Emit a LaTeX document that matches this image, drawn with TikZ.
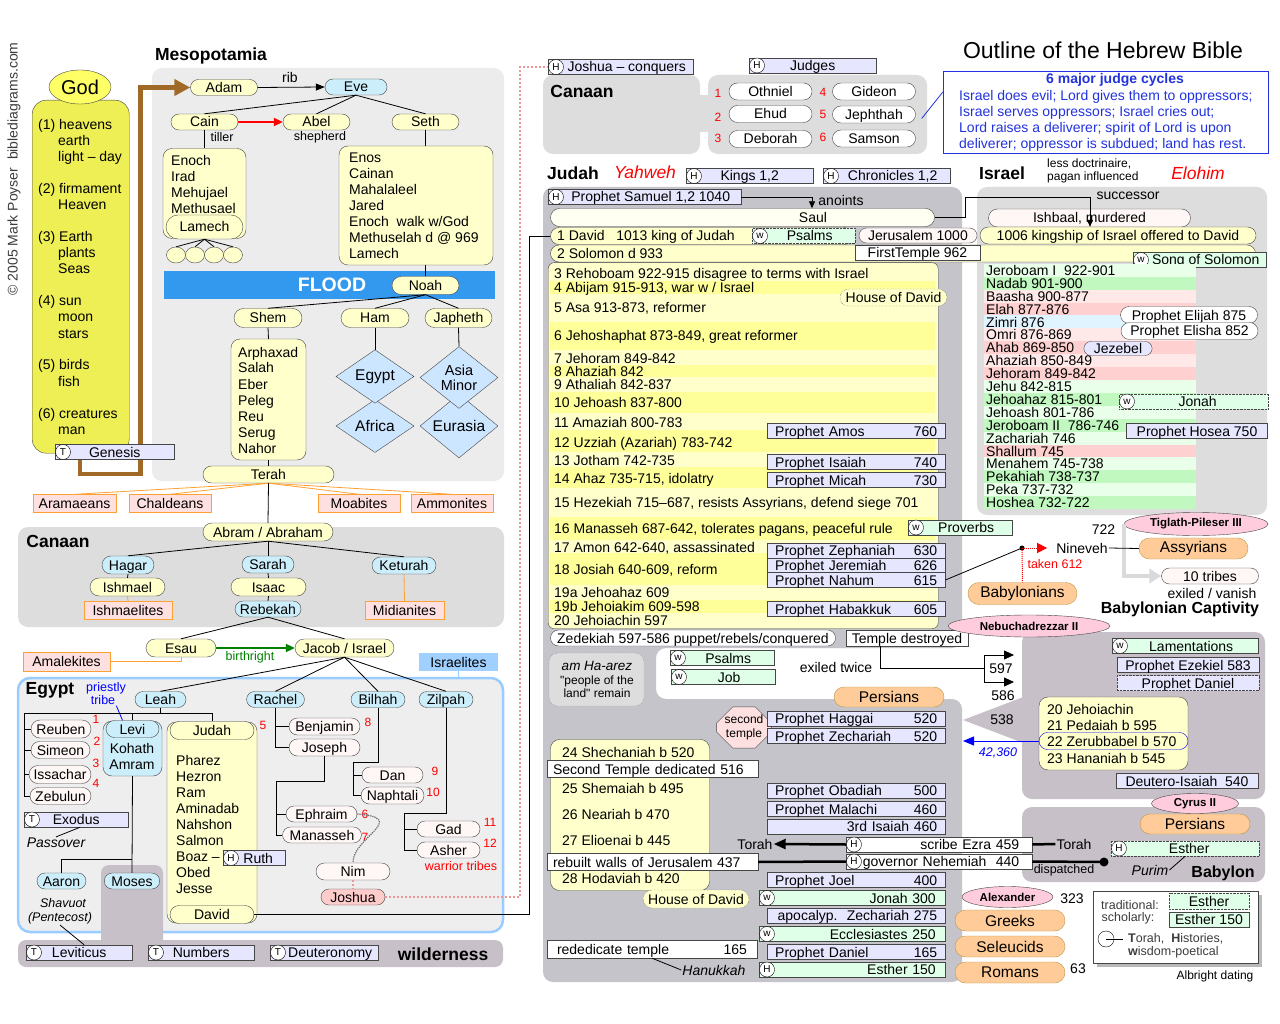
\documentclass[tikz,border=0pt]{standalone}
\usepackage{fontspec}
\setmainfont{Liberation Sans}
\usepackage{tikz}
\usetikzlibrary{positioning,shapes.misc,shapes.geometric,arrows.meta}
\definecolor{lineGray}{RGB}{70,70,70}
\definecolor{textGray}{RGB}{60,60,60}
\definecolor{pillYellow}{RGB}{255,255,204}
\definecolor{saulWhite}{RGB}{255,255,242}
\definecolor{pillBlue}{RGB}{204,238,250}
\definecolor{tribeWhite}{RGB}{255,246,246}
\definecolor{peoplePink}{RGB}{255,224,224}
\definecolor{joshuaPink}{RGB}{255,204,204}
\definecolor{joshuaLine}{RGB}{240,150,150}
\definecolor{orangeLine}{RGB}{255,160,50}
\definecolor{bookLavender}{RGB}{230,230,255}
\definecolor{wisdomGreen}{RGB}{224,255,232}
\definecolor{empirePeach}{RGB}{255,204,153}
\definecolor{empireBorder}{RGB}{190,150,70}
\definecolor{rulerPink}{RGB}{255,204,221}
\definecolor{mesoGray}{RGB}{236,236,236}
\definecolor{canaanGray}{RGB}{221,221,221}
\definecolor{judahGray}{RGB}{196,196,202}
\definecolor{exileGray}{RGB}{200,192,200}
\definecolor{arrowGray}{RGB}{218,218,218}
\definecolor{creationYellow}{RGB}{238,238,85}
\definecolor{godYellow}{RGB}{255,255,102}
\definecolor{floodBlue}{RGB}{51,153,238}
\definecolor{brownArrow}{RGB}{160,105,40}
\definecolor{egyptBlue}{RGB}{153,204,255}
\definecolor{egyptFill}{RGB}{238,238,238}
\definecolor{stripeYellow}{RGB}{255,255,153}
\definecolor{diamondBlue}{RGB}{204,230,255}
\definecolor{cycleBlue}{RGB}{34,51,221}
\definecolor{israelitesBlue}{RGB}{160,208,255}
\definecolor{birthGreen}{RGB}{0,128,0}
\definecolor{dotGray}{RGB}{100,100,110}
\definecolor{grnA}{RGB}{234,255,234}
\definecolor{grnB}{RGB}{192,248,192}
\definecolor{pnkA}{RGB}{255,232,232}
\definecolor{pnkB}{RGB}{255,208,208}
\definecolor{bluA}{RGB}{224,244,255}
\newcommand{\chartTxt}{\fontsize{14}{16}\selectfont}
\newcommand{\smallTxt}{\fontsize{12.5}{14}\selectfont}
\newcommand{\regionTxt}{\fontsize{17.5}{20}\selectfont\bfseries}
\newcommand{\pushRight}{\hspace{0pt plus 1filll}}
\tikzstyle{outlineChart} = [x=1pt, y=-1pt, every node/.style={font=\chartTxt, inner sep=1pt}]
\tikzstyle{textLine} = [text height=12, text depth=2]
\tikzstyle{listLine} = [anchor=west, textLine]
\tikzstyle{pill} = [rounded rectangle, draw=lineGray, fill=pillYellow, textLine, minimum height=16, inner xsep=3, inner ysep=0]
\tikzstyle{bluePill} = [pill, fill=pillBlue]
\tikzstyle{tribePill} = [pill, fill=tribeWhite]
\tikzstyle{whitePill} = [pill, fill=white]
\tikzstyle{judgePill} = [pill, fill=white, minimum width=89, minimum height=17]
\tikzstyle{peoples} = [rectangle, draw=orangeLine, fill=peoplePink, textLine, minimum height=18, inner ysep=0]
\tikzstyle{bookStyle} = [rectangle, draw=lineGray, fill=bookLavender, textLine, minimum height=15, inner xsep=6, inner ysep=0]
\tikzstyle{wisdomStyle} = [bookStyle, fill=wisdomGreen]
\tikzstyle{plainBox} = [bookStyle, fill=white]
\tikzstyle{letterStyle} = [circle, draw=black, fill=white, minimum size=15, inner sep=0pt, font=\fontsize{10}{10}\selectfont]
\tikzstyle{empire} = [rounded rectangle, draw=empireBorder, fill=empirePeach, minimum width=111, minimum height=20, font=\fontsize{15.5}{17}\selectfont]
\tikzstyle{ruler} = [ellipse, draw=lineGray, fill=rulerPink, inner sep=0pt, font=\fontsize{11.5}{12}\selectfont\bfseries]
\tikzstyle{listBox} = [rectangle, rounded corners=9, draw=lineGray, fill=pillYellow, inner sep=0pt]
\tikzstyle{diamondStyle} = [diamond, draw=lineGray, fill=diamondBlue, minimum width=78, minimum height=53, inner sep=0pt, font=\fontsize{15.5}{15}\selectfont]
\tikzstyle{link} = [draw=black, line width=0.8]
\tikzstyle{orangeLink} = [draw=orangeLine, line width=0.8]
\tikzstyle{thickLink} = [draw=black, line width=2.5]
\tikzstyle{joshuaLink} = [draw=joshuaLine, dotted, line width=2]
\tikzstyle{redNum} = [text=red, font=\fontsize{12}{12}\selectfont]
\newcommand{\bookNode}[7]{
  \node[#1, anchor=west, minimum width=#6] (#2) at (#4,#5) {#7};
  \node[letterStyle] (#2Letter) at ({#4+8},#5) {#3};
}
\newcommand{\prophet}[4]{\node[bookStyle, anchor=west, inner xsep=8, text width=162] (#1) at (767,#2) {\noindent#3\pushRight#4};}

\begin{document}
\begin{tikzpicture}[outlineChart]
  \useasboundingbox (0,0) rectangle (1280,1024);
  \fill[white] (0,0) rectangle (1280,1024);

  \fill[mesoGray, rounded corners=10] (152,68) rectangle (504,481);
  \fill[canaanGray, rounded corners=10] (18,527) rectangle (504,627);
  \draw[egyptBlue, line width=2.5, fill=egyptFill, rounded corners=12] (18,678) rectangle (503,932);
  \fill[exileGray, rounded corners=8] (101,865) rectangle (163,955);
  \fill[exileGray, rounded corners=8] (18,940) rectangle (503,967);
  \fill[canaanGray, rounded corners=10] (543,75) rectangle (700,154);
  \fill[canaanGray] (695,95) rectangle (712,132);
  \fill[canaanGray, rounded corners=10] (708,75) rectangle (927,154);
  \fill[judahGray, rounded corners=10] (543,187) -- (962,187) -- (962,648) -- (656,648) -- (656,699) -- (962,699) -- (962,982) -- (543,982) -- cycle;
  \fill[canaanGray, rounded corners=10] (977,187) rectangle (1267,515);
  \fill[exileGray, rounded corners=10] (1022,632) rectangle (1265,799);
  \fill[exileGray] (963,720) -- (1026,696) -- (1026,744) -- cycle;
  \fill[exileGray, rounded corners=10] (1022,807) rectangle (1265,882);

  \node[rotate=90, text=textGray] (copyright) at (14,169) {\textcopyright\ 2005 Mark Poyser\ \ biblediagrams.com};
  \node[font=\fontsize{23}{26}\selectfont] (title) at (1103,50) {Outline of the Hebrew Bible};

  \node[pill, minimum width=73] (adam) at (224,87.5) {Adam};
  \draw[brownArrow, line width=4.5, -{Triangle[length=16,width=16]}] (80,460) |- (140.5,474) |- (adam.west);
  \node[rectangle, rounded corners=14, draw=lineGray, fill=creationYellow, minimum width=97, minimum height=353, anchor=north west] (creation) at (32,100) {};
  \node[ellipse, draw=lineGray, fill=godYellow, minimum width=62, minimum height=34, font=\fontsize{20}{20}\selectfont] (god) at (80,87) {God};
  \foreach \y/\t [count=\i] in {125/{(1) heavens}, 189/{(2) firmament}, 237/{(3) Earth}, 301/{(4) sun}, 365/{(5) birds}, 413/{(6) creatures}}
    \node[listLine] (creationDay\i) at (37,\y) {\t};
  \foreach \y/\t [count=\i] in {141/earth, 157/{light -- day}, 205/Heaven, 253/plants, 269/Seas, 317/moon, 333/stars, 381/fish, 429/man}
    \node[listLine] (creationWork\i) at (57,\y) {\t};
  \bookNode{bookStyle}{genesis}{T}{55}{452}{119}{Genesis}

  \node[font=\regionTxt] (mesoLabel) at (211,56) {Mesopotamia};
  \node[bluePill, minimum width=68] (eve) at (356,87) {Eve};
  \node (ribLabel) at (290,77) {rib};
  \node[pill, minimum width=73] (cain) at (204.5,122) {Cain};
  \node[pill, minimum width=73] (abel) at (316.5,122) {Abel};
  \node[pill, minimum width=73] (seth) at (425.5,122) {Seth};
  \node[font=\smallTxt] (tillerLabel) at (222,137) {tiller};
  \node[font=\smallTxt] (shepherdLabel) at (320,137) {shepherd};
  \node[listBox, minimum width=83, minimum height=90] (cainBox) at (204.5,193.5) {};
  \foreach \t [count=\i] in {Enoch, Irad, Mehujael, Methusael}
    \node[listLine] (cainLine\i) at (170,{145+16*\i}) {\t};
  \node[pill, minimum width=83, minimum height=24] (lamech) at (204.5,227) {Lamech};
  \foreach \x [count=\i] in {176,195,214,233}
    \node[ellipse, draw=lineGray, fill=pillYellow, minimum width=19, minimum height=16, inner sep=0pt] (grandchild\i) at (\x,255) {};
  \node[listBox, minimum width=154, minimum height=119] (sethBox) at (416,205.5) {};
  \foreach \t [count=\i] in {Enos, Cainan, Mahalaleel, Jared, {Enoch\ \ walk w/God}, {Methuselah d @ 969}, Lamech}
    \node[listLine] (sethLine\i) at (348,{142+16*\i}) {\t};
  \node[fill=floodBlue, minimum width=331, minimum height=28, anchor=north west] (flood) at (164,270.5) {};
  \node[text=white, font=\fontsize{19.5}{20}\selectfont\bfseries] (floodLabel) at (332,285) {FLOOD};
  \node[pill, minimum width=73, minimum height=18] (noah) at (425.5,285.5) {Noah};
  \node[pill, minimum width=74, minimum height=19] (shem) at (268,318) {Shem};
  \node[pill, minimum width=74, minimum height=19] (ham) at (375,318) {Ham};
  \node[pill, minimum width=73, minimum height=19] (japheth) at (458.5,318) {Japheth};
  \node[listBox, minimum width=75, minimum height=121] (shemBox) at (268.5,399.5) {};
  \foreach \t [count=\i] in {Arphaxad, Salah, Eber, Peleg, Reu, Serug, Nahor}
    \node[listLine] (shemLine\i) at (237,{336+16*\i}) {\t};
  \node[diamondStyle] (africaD) at (375,426) {Africa};
  \node[diamondStyle] (egyptD) at (375,376.5) {Egypt};
  \node[diamondStyle] (eurasiaD) at (459,426) {Eurasia};
  \node[diamondStyle, align=center, font=\fontsize{14.5}{15}\selectfont] (asiaD) at (459,377.5) {Asia\\Minor};
  \node[pill, minimum width=137, minimum height=17] (terah) at (268.5,474.5) {Terah};
  \node[peoples, minimum width=83] (aramaeans) at (74.5,503.5) {Aramaeans};
  \node[peoples, minimum width=82] (chaldeans) at (170,503.5) {Chaldeans};
  \node[peoples, minimum width=82] (moabites) at (359,503.5) {Moabites};
  \node[peoples, minimum width=82] (ammonites) at (452,503.5) {Ammonites};

  \draw[link, -{Triangle[length=9,width=7]}] (adam.east) -- (eve.west);
  \draw[link] (eve.south) -- (cain.north);
  \draw[link] (eve.south) -- (abel.north);
  \draw[link] (eve.south) -- (seth.north);
  \draw[red, line width=2, -{Triangle[length=9,width=8]}] (cain.east) -- (abel.west);
  \draw[link] (cain.south) -- (cainBox.north);
  \foreach \i in {1,...,4}
    \draw[link] (lamech.south) -- (grandchild\i.north);
  \draw[link] (seth.south) -- (seth.south |- sethBox.north);
  \draw[link] (noah.north) -- (noah.north |- sethBox.south);
  \draw[link] (noah.south) -- (shem.north);
  \draw[link] (noah.south) -- (ham.north);
  \draw[link] (noah.south) -- (japheth.north);
  \draw[link] (shem.south) -- (shemBox.north);
  \draw[link] (ham.south) -- (egyptD.north);
  \draw[link] (japheth.south) -- (asiaD.north);
  \draw[link] (shemBox.south) -- (terah.north);
  \draw[orangeLink] (terah.south) -- (aramaeans.north);
  \draw[orangeLink] (terah.south) -- (chaldeans.north);
  \draw[orangeLink] (terah.south) -- (moabites.north);
  \draw[orangeLink] (terah.south) -- (ammonites.north);

  \node[font=\regionTxt] (canaanLabel) at (58,541) {Canaan};
  \node[pill, minimum width=136, minimum height=18] (abraham) at (268,532) {Abram / Abraham};
  \node[bluePill, minimum width=58, minimum height=18] (hagar) at (128,565) {Hagar};
  \node[bluePill, minimum width=58, minimum height=17] (sarah) at (268,564.5) {Sarah};
  \node[bluePill, minimum width=70, minimum height=17] (keturah) at (404,565.5) {Keturah};
  \node[pill, minimum width=81, minimum height=18] (ishmael) at (127.5,587) {Ishmael};
  \node[pill, minimum width=81, minimum height=18] (isaac) at (268.5,587) {Isaac};
  \node[peoples, minimum width=88] (ishmaelites) at (128,610) {Ishmaelites};
  \node[peoples, minimum width=79] (midianites) at (404.5,610) {Midianites};
  \node[bluePill, minimum width=72] (rebekah) at (268,609) {Rebekah};
  \node[pill, minimum width=76, minimum height=18] (esau) at (181,648) {Esau};
  \node[pill, minimum width=105, minimum height=18] (jacob) at (344.5,648) {Jacob / Israel};
  \node[text=birthGreen, font=\smallTxt] (birthrightLabel) at (250,657) {birthright};
  \node[peoples, minimum width=87, minimum height=19] (amalekites) at (66.5,661.5) {Amalekites};
  \node[fill=israelitesBlue, minimum width=79, minimum height=18, textLine, inner ysep=0] (israelites) at (458.5,662) {Israelites};
  \coordinate (egyptTop) at (458.5,678);

  \draw[link] (terah.south) -- (abraham.north);
  \draw[link] (abraham.south) -- (hagar.north);
  \draw[link] (abraham.south) -- (sarah.north);
  \draw[link] (abraham.south) -- (keturah.north);
  \draw[link] (hagar.south) -- (ishmael.north);
  \draw[orangeLink] (ishmael.south) -- (ishmaelites.north);
  \draw[link] (sarah.south) -- (isaac.north);
  \draw[link] (isaac.south) -- (rebekah.north);
  \draw[orangeLink] (keturah.south) -- (midianites.north);
  \draw[link] (rebekah.south) -- (esau.north);
  \draw[link] (rebekah.south) -- (jacob.north);
  \draw[birthGreen, line width=2, -{Triangle[length=9,width=8]}] (esau.east) -- (jacob.west);
  \draw[orangeLink] (esau.south) |- (amalekites.east);
  \draw[egyptBlue, line width=1.5] (israelites.south) -- (egyptTop);

  \node[font=\regionTxt] (egyptLabel) at (50,690) {Egypt};
  \node[text=blue, font=\smallTxt] (priestlyLabel) at (106,688) {priestly};
  \node[text=blue, font=\smallTxt] (tribeLabel) at (103,700) {tribe};
  \node[bluePill, minimum width=57] (leah) at (160.5,699.5) {Leah};
  \node[bluePill, minimum width=57] (rachel) at (275.5,699.5) {Rachel};
  \node[bluePill, minimum width=60] (bilhah) at (378,699.5) {Bilhah};
  \node[bluePill, minimum width=60] (zilpah) at (446,699.5) {Zilpah};
  \node[tribePill, minimum width=66, minimum height=18] (reuben) at (61,729) {Reuben};
  \node[tribePill, minimum width=65, minimum height=17] (simeon) at (60.5,750) {Simeon};
  \node[tribePill, minimum width=68, minimum height=18] (issachar) at (60,774.5) {Issachar};
  \node[tribePill, minimum width=67, minimum height=17] (zebulun) at (60.5,796) {Zebulun};
  \node[listBox, fill=pillBlue, minimum width=59, minimum height=55] (leviBox) at (132.5,748.5) {};
  \node[bluePill, minimum width=59, minimum height=17] (levi) at (132.5,729) {Levi};
  \node[textLine] (kohath) at (132,748) {Kohath};
  \node[textLine] (amram) at (132,764) {Amram};
  \node[listBox, minimum width=90, minimum height=201] (judahBox) at (212,822.5) {};
  \node[pill, minimum width=90, minimum height=18] (judah) at (212,730.5) {Judah};
  \node[pill, minimum width=90, minimum height=18] (david) at (212,914.5) {David};
  \foreach \t [count=\i] in {Pharez, Hezron, Ram, Aminadab, Nahshon, Salmon, {Boaz --}, Obed, Jesse}
    \node[listLine] (judahLine\i) at (175,{744+16*\i}) {\t};
  \bookNode{bookStyle}{ruth}{H}{223}{858}{62}{\hspace{8pt}Ruth}
  \node[bluePill, minimum width=55] (aaron) at (61.5,881) {Aaron};
  \node[bluePill, minimum width=55] (moses) at (132,881) {Moses};
  \node[font=\smallTxt\itshape] (shavuotLabel) at (63,903) {Shavuot};
  \node[font=\smallTxt\itshape] (pentecostLabel) at (60,918) {(Pentecost)};
  \bookNode{bookStyle}{exodus}{T}{24}{819.5}{104}{Exodus}
  \node[font=\chartTxt\itshape] (passoverLabel) at (56,843) {Passover};
  \bookNode{bookStyle}{leviticus}{T}{26}{952.5}{106}{Leviticus}
  \bookNode{bookStyle}{numbers}{T}{148}{952.5}{106}{Numbers}
  \bookNode{bookStyle}{deuteronomy}{T}{270}{952.5}{107}{\hspace{12pt}Deuteronomy}
  \node[font=\regionTxt] (wildernessLabel) at (443,954) {wilderness};
  \node[tribePill, minimum width=77, minimum height=17] (benjamin) at (324.5,726.5) {Benjamin};
  \node[tribePill, minimum width=77, minimum height=17] (joseph) at (324.5,747.5) {Joseph};
  \node[tribePill, minimum width=77] (ephraim) at (321.5,814) {Ephraim};
  \node[tribePill, minimum width=78] (manasseh) at (322,835) {Manasseh};
  \node[tribePill, minimum width=67] (dan) at (392.5,775) {Dan};
  \node[tribePill, minimum width=69, minimum height=17] (naphtali) at (392.5,795.5) {Naphtali};
  \node[tribePill, minimum width=69] (gad) at (448.5,829) {Gad};
  \node[tribePill, minimum width=69] (asher) at (448.5,850) {Asher};
  \foreach \x/\y/\n in {96/719/1, 97/741/2, 96/763/3, 96/783/4, 263/725/5, 365/814/6, 365/837/7, 368/722/8, 435/771/9, 433/792/10, 490/822/11, 490/843/12}
    \node[redNum] (tribeNum\n) at (\x,\y) {\n};
  \node[text=red, font=\smallTxt] (warriorLabel) at (461,866) {warrior tribes};
  \node[tribePill, minimum width=80, minimum height=17] (nim) at (353,871.5) {Nim};
  \node[pill, fill=joshuaPink, minimum width=70] (joshua) at (353,897) {Joshua};

  \coordinate (leahBar) at (160.5,713);
  \coordinate (leahLeft) at (24,713);
  \coordinate (leviTurn) at (132,859);
  \coordinate (josephTurn) at (276,781);
  \coordinate (bilhahTurn) at (353,762);
  \coordinate (zilpahTurn) at (404,813);
  \draw[link] (jacob.south) -- (leah.north);
  \draw[link] (jacob.south) -- (rachel.north);
  \draw[link] (jacob.south) -- (bilhah.north);
  \draw[link] (jacob.south) -- (zilpah.north);
  \draw[blue, line width=0.8] (tribeLabel.south east) -- ([xshift=-10]levi.north);
  \draw[link] (leah.south) -- (leahBar);
  \draw[link] (leahLeft) -| (judah.north);
  \draw[link] (leahBar) -| (levi.north);
  \draw[link] (leahLeft) |- (reuben.west);
  \draw[link] (leahLeft) |- (simeon.west);
  \draw[link] (leahLeft) |- (issachar.west);
  \draw[link] (leahLeft) |- (zebulun.west);
  \draw[link] (leviBox.south) -- (moses.north);
  \draw[link] (leviTurn) -| (aaron.north);
  \draw[link] (rachel.south) |- (benjamin.west);
  \draw[link] (rachel.south) |- (joseph.west);
  \draw[link] (joseph.south) |- (josephTurn) |- (ephraim.west);
  \draw[link] (josephTurn) |- (manasseh.west);
  \draw[link] (bilhah.south) |- (bilhahTurn) |- (dan.west);
  \draw[link] (bilhahTurn) |- (naphtali.west);
  \draw[link] (zilpah.south) |- (zilpahTurn) |- (gad.west);
  \draw[link] (zilpahTurn) |- (asher.west);
  \draw[dotGray, densely dotted, line width=1.2] (ephraim.east) .. controls (410,818) and (352,838) .. (nim.north);
  \draw[joshuaLine, dotted, line width=2] (nim.south) -- (joshua.north);
  \draw[link] (passoverLabel.north) -- ([xshift=4]exodus.south);
  \draw[link] (pentecostLabel.south) -- ([xshift=5]leviticus.north);

  \bookNode{bookStyle}{joshuaBook}{H}{548}{67}{145}{\hspace{12pt}Joshua -- conquers}
  \bookNode{bookStyle}{judgesBook}{H}{749}{65.5}{127}{Judges}
  \node[font=\regionTxt] (canaanTopLabel) at (582,91) {Canaan};
  \foreach \name/\x/\y/\t in {othniel/770.5/91.5/Othniel, ehud/770.5/114/Ehud, deborah/770.5/139/Deborah, gideon/874/91.5/Gideon, jephthah/874/114.5/Jephthah, samson/874/138.5/Samson}
    \node[judgePill] (\name) at (\x,\y) {\t};
  \foreach \x/\y/\n in {718/93/1, 718/117/2, 718/138/3, 823/92/4, 823/114/5, 823/137/6}
    \node[redNum] (judgeNum\n) at (\x,\y) {\n};
  \node[draw=cycleBlue, fill=white, minimum width=325, minimum height=82] (cycleBox) at (1105.5,112) {};
  \node[text=cycleBlue, font=\chartTxt\bfseries] (cycleTitle) at (1115,80) {6 major judge cycles};
  \node[listLine, text=cycleBlue] (cycleLine1) at (958,96) {Israel does evil; Lord gives them to oppressors;};
  \node[listLine, text=cycleBlue] (cycleLine2) at (958,112) {Israel serves oppressors; Israel cries out;};
  \node[listLine, text=cycleBlue] (cycleLine3) at (958,128) {Lord raises a deliverer; spirit of Lord is upon};
  \node[listLine, text=cycleBlue] (cycleLine4) at (958,144) {deliverer; oppressor is subdued; land has rest.};
  \draw[cycleBlue, line width=0.8] ([xshift=6,yshift=-4]jephthah.east) -- ([yshift=20]cycleBox.west);

  \node[font=\regionTxt] (judahLabel) at (573,173) {Judah};
  \node[font=\fontsize{17.5}{20}\selectfont\itshape, text=red] (yahwehLabel) at (645,172) {Yahweh};
  \bookNode{bookStyle}{kingsBook}{H}{686}{176}{127}{Kings 1,2}
  \bookNode{bookStyle}{chroniclesBook}{H}{823}{176}{127}{\hspace{12pt}Chronicles 1,2}
  \bookNode{bookStyle}{samuelBook}{H}{548}{197}{193}{\hspace{12pt}Prophet Samuel 1,2 1040}
  \node[pill, fill=saulWhite, minimum width=390, minimum height=18] (saul) at (742.5,217.5) {};
  \node[textLine] (saulText) at (813,217.5) {Saul};
  \node (anointsLabel) at (841,200) {anoints};
  \node[pill, fill=tribeWhite, minimum width=208, minimum height=18] (ishbaal) at (1089.5,218) {Ishbaal, murdered};
  \node[pill, minimum width=711, minimum height=17] (solomonBar) at (903,253.5) {};
  \node[listLine] (solomonText) at (556,253.5) {2 Solomon d 933};
  \node[pill, minimum width=282, minimum height=17] (kingshipBar) at (1118,235.5) {1006 kingship of Israel offered to David};
  \node[pill, minimum width=308, minimum height=17] (davidBar) at (701.5,236) {};
  \node[listLine] (davidText) at (556,236) {1 David\ \ \ 1013 king of Judah};
  \bookNode{wisdomStyle, densely dotted}{psalmsTop}{w}{752}{236}{103}{\hspace{12pt}Psalms}
  \node[pill, fill=tribeWhite, minimum width=124, minimum height=15] (jerusalem) at (918,235.5) {Jerusalem 1000};
  \node[plainBox, minimum width=125] (firstTemple) at (917.5,253) {FirstTemple 962};
  \bookNode{wisdomStyle}{songBook}{w}{1133}{260}{133}{\hspace{12pt}Song of Solomon}
  \node (successorLabel) at (1128,196) {successor};
  \draw[link, -{Triangle[length=7,width=6]}] (samuelBook.east) -| ([xshift=69.5]saul.north);
  \draw[link, -{Triangle[length=7,width=6]}] (saul.east) -- ++(31,0) -- ++(0,-20) -| ([xshift=-28]kingshipBar.north);

  \node[listBox, rounded corners=6, minimum width=390, minimum height=366, anchor=north west] (kingsBox) at (548,262.5) {};
  \foreach \a/\b in {281/294, 322/350, 365/377, 392/413, 430/452, 467/488, 517/540, 553/585, 600/613}
    \fill[stripeYellow] (550,\a) rectangle (935,\b);
  \foreach \y/\t [count=\i from 3] in {274/{3 Rehoboam 922-915 disagree to terms with Israel}, 288/{4 Abijam 915-913, war w / Israel}, 308/{5 Asa 913-873, reformer}, 336/{6 Jehoshaphat 873-849, great reformer}, 358/{7 Jehoram 849-842}, 372/{8 Ahaziah 842}, 384/{9 Athaliah 842-837}, 402/{10 Jehoash 837-800}, 422/{11 Amaziah 800-783}, 442/{12 Uzziah (Azariah) 783-742}, 460/{13 Jotham 742-735}, 478/{14 Ahaz 735-715, idolatry}, 502/{15 Hezekiah 715--687, resists Assyrians, defend siege 701}, 528/{16 Manasseh 687-642, tolerates pagans, peaceful rule}, 547/{17 Amon 642-640, assassinated}, 569/{18 Josiah 640-609, reform}, 592/{19a Jehoahaz 609}, 606/{19b Jehoiakim 609-598}, 620/{20 Jehoiachin 597}}
    \node[listLine] (judahKing\i) at (553,\y) {\t};
  \node[pill, densely dotted, minimum width=113, minimum height=17] (houseDavidTop) at (893.5,297.5) {House of David};
  \prophet{amos}{431}{Prophet Amos}{760}
  \prophet{isaiah}{462}{Prophet Isaiah}{740}
  \prophet{micah}{480}{Prophet Micah}{730}
  \prophet{zephaniah}{550.5}{Prophet Zephaniah}{630}
  \prophet{jeremiah}{565.5}{Prophet Jeremiah}{626}
  \prophet{nahum}{580}{Prophet Nahum}{615}
  \prophet{habakkuk}{609}{Prophet Habakkuk}{605}
  \bookNode{wisdomStyle}{proverbs}{w}{908}{527.5}{104}{\hspace{12pt}Proverbs}
  \node[whitePill, minimum width=291] (zedekiah) at (693,638) {Zedekiah 597-586 puppet/rebels/conquered};
  \node[plainBox, minimum width=122, minimum height=16] (templeDestroyed) at (907,638) {Temple destroyed};
  \node (exiledLabel) at (836,667) {exiled twice};
  \node[rectangle, rounded corners=9, draw=gray, densely dotted, fill=canaanGray, minimum width=95, minimum height=53] (amHaarez) at (596.5,679.5) {};
  \node[font=\fontsize{13.5}{14}\selectfont\itshape] (amHaarezLine1) at (597,666) {am Ha-arez};
  \node[font=\fontsize{12}{14}\selectfont] (amHaarezLine2) at (597,681) {\textquotedbl people of the};
  \node[font=\fontsize{12}{14}\selectfont] (amHaarezLine3) at (597,693) {land\textquotedbl\ remain};
  \bookNode{wisdomStyle}{psalmsLow}{w}{670}{658}{104}{\hspace{12pt}Psalms}
  \bookNode{wisdomStyle}{job}{w}{671}{677}{104}{\hspace{12pt}Job}
  \node[empire, minimum width=112] (persiansJudah) at (889,697) {Persians};
  \node[chamfered rectangle, chamfered rectangle xsep=8, chamfered rectangle ysep=8, draw=lineGray, fill=peoplePink, minimum width=54, minimum height=33, inner sep=0pt, align=center, font=\fontsize{12}{14}\selectfont] (secondTemple) at (744,727.5) {second\\temple};
  \prophet{haggai}{718.5}{Prophet Haggai}{520}
  \prophet{zechariah}{736}{Prophet Zechariah}{520}
  \node[listBox, minimum width=159, minimum height=151] (restorationBox) at (630,815) {};
  \foreach \y/\t [count=\i from 24] in {752/{24 Shechaniah b 520}, 788/{25 Shemaiah b 495}, 814/{26 Neariah b 470}, 840/{27 Elioenai b 445}, 878/{28 Hodaviah b 420}}
    \node[listLine] (davidHeir\i) at (561,\y) {\t};
  \node[plainBox, minimum width=211, minimum height=17, text width=199] (secondTempleBar) at (652.5,769) {\noindent Second Temple dedicated 516};
  \node[plainBox, minimum width=211, minimum height=17, text width=199] (rebuiltWalls) at (652.5,862) {\noindent rebuilt walls of Jerusalem 437};
  \prophet{obadiah}{790.5}{Prophet Obadiah}{500}
  \prophet{malachi}{809}{Prophet Malachi}{460}
  \prophet{isaiahThird}{826.5}{}{3rd Isaiah 460}
  \bookNode{plainBox, text width=160}{ezra}{H}{846}{844.5}{186}{\noindent\pushRight scribe Ezra 459}
  \bookNode{plainBox, text width=160}{nehemiah}{H}{846}{861.5}{186}{\noindent\pushRight governor Nehemiah\ \ 440}
  \node (torahLeft) at (755,844) {Torah};
  \node (torahRight) at (1074,844) {Torah};
  \node[font=\smallTxt] (dispatchedLabel) at (1064,870) {dispatched};
  \coordinate (dispatchDot) at (1104,862);
  \prophet{joel}{880}{Prophet Joel}{400}
  \node[pill, densely dotted, minimum width=112, minimum height=18] (houseDavidLow) at (696,899) {House of David};
  \bookNode{wisdomStyle, text width=167}{jonahLow}{w}{759}{898}{186}{\noindent\pushRight Jonah 300}
  \prophet{zechariahLate}{915.5}{}{apocalyp.\ \ Zechariah 275}
  \bookNode{wisdomStyle, text width=167}{ecclesiastes}{w}{759}{934}{186}{\noindent\pushRight Ecclesiastes 250}
  \prophet{danielLate}{952}{Prophet Daniel}{165}
  \bookNode{wisdomStyle, text width=167}{estherLate}{H}{759}{969.5}{186}{\noindent\pushRight Esther 150}
  \node[plainBox, minimum width=210, minimum height=18, text width=190, inner xsep=10] (rededicate) at (652,949) {\noindent rededicate temple\pushRight 165};
  \node[font=\chartTxt\itshape] (hanukkahLabel) at (714,970) {Hanukkah};

  \node[font=\regionTxt] (israelLabel) at (1002,173) {Israel};
  \node[anchor=west, font=\fontsize{12}{14}\selectfont] (lessLabel) at (1046,164) {less doctrinaire,};
  \node[anchor=west, font=\fontsize{12}{14}\selectfont] (paganLabel) at (1046,177.5) {pagan influenced};
  \node[font=\fontsize{17.5}{20}\selectfont\itshape, text=red] (elohimLabel) at (1198,173) {Elohim};
  \foreach \c/\t [count=\i] in {grnA/{Jeroboam I\ \ 922-901}, grnB/{Nadab 901-900}, pnkA/{Baasha 900-877}, pnkB/{Elah 877-876}, bluA/{Zimri 876}, pnkA/{Omri 876-869}, pnkB/{Ahab 869-850}, pnkA/{Ahaziah 850-849}, pnkB/{Jehoram 849-842}, grnA/{Jehu 842-815}, grnB/{Jehoahaz 815-801}, grnA/{Jehoash 801-786}, grnB/{Jeroboam II\ \ 786-746}, grnA/{Zachariah 746}, pnkB/{Shallum 745}, grnA/{Menahem 745-738}, grnB/{Pekahiah 738-737}, grnA/{Peka 737-732}, grnB/{Hoshea 732-722}}
  {
    \fill[\c] (984,{251+12.9*\i}) rectangle (1196,{263.9+12.9*\i});
    \node[listLine] (israelKing\i) at (985,{257.5+12.9*\i}) {\t};
  }
  \node[whitePill, minimum width=143, minimum height=17] (elijah) at (1189,315) {Prophet Elijah 875};
  \node[whitePill, minimum width=143, minimum height=17] (elisha) at (1189.5,331) {Prophet Elisha 852};
  \node[pill, fill=bookLavender, minimum width=60, minimum height=14] (jezebel) at (1118,348.5) {Jezebel};
  \bookNode{wisdomStyle, densely dotted}{jonahIsrael}{w}{1119}{401.5}{149}{\hspace{8pt}Jonah}
  \node[bookStyle, minimum width=141] (hosea) at (1197,431) {Prophet Hosea 750};

  \node (year722) at (1103.5,530) {722};
  \node[ruler, minimum width=144, minimum height=23] (tiglath) at (1196,524) {Tiglath-Pileser III};
  \coordinate (ninevehDot) at (1022,548);
  \node (nineveh) at (1082,548) {Nineveh};
  \node[tribePill, minimum width=103] (tenTribes) at (1210,576) {10 tribes};
  \draw[arrowGray, line width=4, -{Triangle[length=12,width=14]}] (tiglath.west) |- (tenTribes.west);
  \node[empire, minimum height=21] (assyrians) at (1193.5,548.5) {Assyrians};
  \node (exiledVanish) at (1212,593) {exiled / vanish};
  \node[font=\fontsize{16}{18}\selectfont\bfseries] (captivityLabel) at (1180,609) {Babylonian Captivity};
  \node[text=red, font=\smallTxt] (takenLabel) at (1055,564) {taken 612};
  \node[empire, minimum height=22] (babylonians) at (1022.5,593.5) {Babylonians};
  \node[ruler, minimum width=162, minimum height=22] (nebuchadrezzar) at (1029,626) {Nebuchadrezzar II};

  \bookNode{wisdomStyle}{lamentations}{w}{1112}{646}{146}{\hspace{12pt}Lamentations}
  \node[bookStyle, minimum width=142] (ezekiel) at (1188,665) {Prophet Ezekiel 583};
  \node[bookStyle, densely dotted, minimum width=142] (danielExile) at (1188,683) {Prophet Daniel};
  \node (year597) at (1001,669) {597};
  \node (year586) at (1003,696) {586};
  \node (year538) at (1002,720) {538};
  \node[listBox, minimum width=149, minimum height=73] (exileBox) at (1113.5,733.5) {};
  \foreach \y/\t [count=\i from 20] in {709/{20 Jehoiachin}, 725/{21 Pedaiah b 595}, 741/{22 Zerubbabel b 570}, 758/{23 Hananiah b 545}}
    \node[listLine] (exileHeir\i) at (1046,\y) {\t};
  \node[rounded rectangle, draw=blue, minimum width=151, minimum height=17] (zerubbabelRing) at (1113.5,741) {};
  \coordinate (returnTip) at (963,741);
  \node[text=blue, font=\smallTxt\itshape] (returnCount) at (998,753) {42,360};
  \node[bookStyle, minimum width=142] (deuteroIsaiah) at (1187,781) {Deutero-Isaiah\ \ 540};
  \node[ruler, minimum width=87, minimum height=20] (cyrus) at (1195,803.5) {Cyrus II};
  \node[empire, minimum width=112] (persiansExile) at (1195,824) {Persians};
  \bookNode{wisdomStyle, densely dotted}{estherBabylon}{H}{1111}{848.5}{148}{\hspace{8pt}Esther}
  \node[font=\chartTxt\itshape] (purimLabel) at (1150,870) {Purim};
  \node[font=\fontsize{16}{18}\selectfont\bfseries] (babylonLabel) at (1223,873) {Babylon};
  \node[ruler, minimum width=91, minimum height=21] (alexander) at (1007.5,897) {Alexander};
  \node (year323) at (1072,899) {323};
  \node[empire, minimum width=112, minimum height=21] (greeks) at (1010,920.5) {Greeks};
  \node[empire, minimum width=112, minimum height=21] (seleucids) at (1010,946.5) {Seleucids};
  \node[empire, minimum width=112, minimum height=21] (romans) at (1010,972.5) {Romans};
  \node (year63) at (1078,969) {63};

  \fill[gray!55] (1097,895) rectangle (1262,967);
  \node[draw=lineGray, fill=white, minimum width=165, minimum height=72, anchor=north west, inner sep=0pt] (legend) at (1093,891) {};
  \node[text=textGray, font=\smallTxt] (traditionalLabel) at (1130,905) {traditional:};
  \node[text=textGray, font=\smallTxt] (scholarlyLabel) at (1128,918.5) {scholarly:};
  \node[wisdomStyle, densely dotted, minimum width=80, minimum height=16] (estherTraditional) at (1209,901) {Esther};
  \node[wisdomStyle, minimum width=80] (estherScholarly) at (1209,919.5) {Esther 150};
  \node[circle, draw=black, fill=white, minimum size=16, inner sep=0pt] (legendCircle) at (1106,939) {};
  \node[anchor=west, text=textGray, font=\smallTxt] (legendLine1) at (1127,939) {\textbf{T}orah,\ \ \textbf{H}istories,};
  \node[anchor=west, text=textGray, font=\smallTxt] (legendLine2) at (1127,952) {\textbf{w}isdom-poetical};
  \node[font=\fontsize{12}{14}\selectfont] (albrightLabel) at (1215,976) {Albright dating};

  \coordinate (bracketMid) at (984,668);
  \coordinate (bracketTop) at (984,655);
  \coordinate (bracketBottom) at (984,682);
  \draw[link] ([xshift=-27]templeDestroyed.south) |- (bracketMid);
  \draw[link] (bracketTop) -- (bracketBottom);
  \draw[link, -{Triangle[length=10,width=9]}] (bracketTop) -- ++(30,0);
  \draw[link, -{Triangle[length=10,width=9]}] (bracketBottom) -- ++(30,0);
  \draw[link] (nahum.east) -- (ninevehDot);
  \fill (ninevehDot) circle (2.5);
  \draw[red, densely dotted, line width=1, -{Triangle[length=10,width=10]}] (ninevehDot) -- ([xshift=-8]nineveh.west);
  \draw[red, densely dotted, line width=1] (ninevehDot) -- (babylonians.north);
  \draw[link] (nineveh.east) -- (assyrians.west);
  \draw[blue, line width=1, -{Triangle[length=11,width=9]}] (zerubbabelRing.west) -- (returnTip);
  \draw[thickLink, -{Triangle[length=12,width=10]}] (ezra.west) -- (torahLeft.east);
  \draw[thickLink] (ezra.east) -- (torahRight.west);
  \draw[thickLink] (rebuiltWalls.east) -- (nehemiah.west);
  \draw[thickLink] (nehemiah.east) -- (dispatchDot);
  \fill (dispatchDot) circle (4.5);
  \draw[link] (rededicate.south) -- (hanukkahLabel.west);
  \draw[link] (purimLabel.east) -- (estherBabylon.south);
  \draw[link] (legendCircle.center) -- ([xshift=9]legendCircle.east);
  \draw[link] (david.east) -| ([xshift=-21]davidBar.west) -- (davidBar.west);
  \draw[joshuaLink] (joshua.east) -| ([xshift=-28]joshuaBook.west) -- (joshuaBook.west);
\end{tikzpicture}
\end{document}
